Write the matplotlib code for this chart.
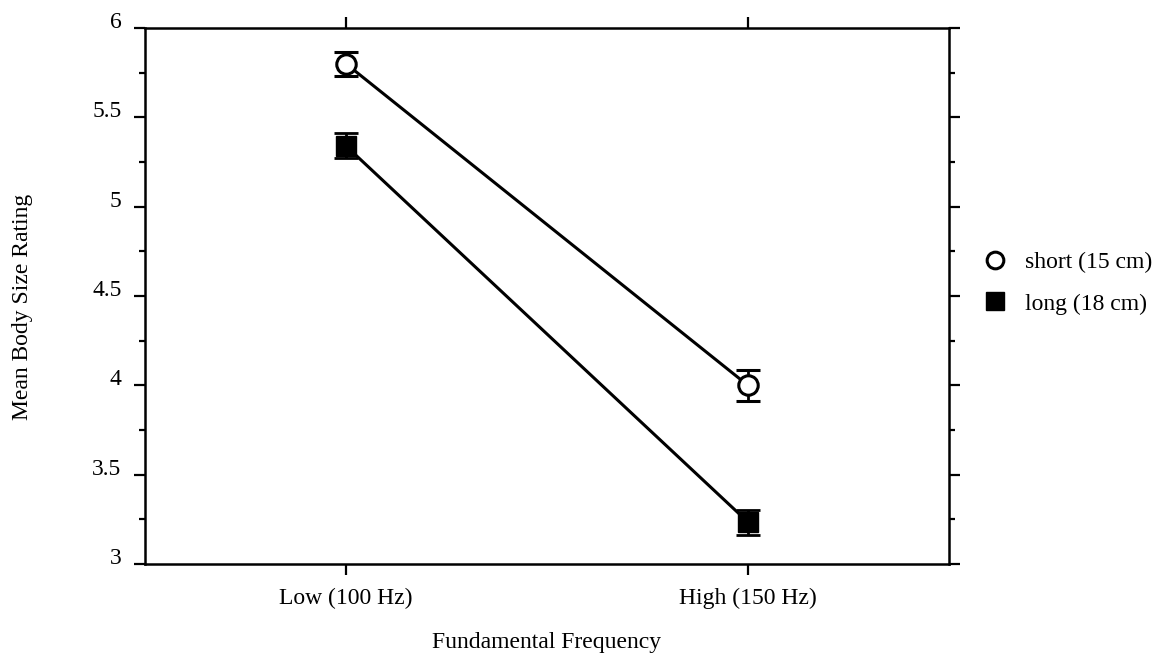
import matplotlib
matplotlib.use("Agg")
import matplotlib.pyplot as plt
from matplotlib.lines import Line2D
from matplotlib.ticker import MultipleLocator, FormatStrFormatter

categories = ["Low (100 Hz)", "High (150 Hz)"]
short_vals = [5.80, 4.00]
short_err = [0.068, 0.085]
long_vals = [5.34, 3.235]
long_err = [0.07, 0.07]
series_labels = ["short (15 cm)", "long (18 cm)"]

plt.rcParams['font.family'] = ['Liberation Serif', 'DejaVu Serif']
FS = 17

fig = plt.figure(figsize=(11.6, 6.54), dpi=100)
ax = fig.add_axes([0.125, 0.1376, 0.693, 0.8196])

x = [1, 2]
ax.errorbar(x, short_vals, yerr=short_err, color='black', lw=2.2, marker='o',
            ms=14, mfc='white', mec='black', mew=2.2, capsize=8.5, capthick=2, elinewidth=2, zorder=3)
ax.errorbar(x, long_vals, yerr=long_err, color='black', lw=2.2, marker='s',
            ms=14, mfc='black', mec='black', capsize=8.5, capthick=2, elinewidth=2, zorder=3)

ax.set_xlim(0.5, 2.5)
ax.set_ylim(3, 6)
ax.set_xticks(x)
ax.set_xticklabels(categories, fontsize=FS)
ax.yaxis.set_major_locator(MultipleLocator(0.5))
ax.yaxis.set_minor_locator(MultipleLocator(0.25))
ax.yaxis.set_major_formatter(FormatStrFormatter('%g'))
ax.tick_params(axis='both', which='major', direction='out', length=8, width=1.6, labelsize=FS)
ax.tick_params(axis='y', which='minor', direction='out', length=4.5, width=1.6)
ax.tick_params(axis='y', which='both', left=True, right=True, pad=9)
ax.tick_params(axis='x', which='both', top=True, bottom=True, pad=9)
for lab in ax.get_yticklabels():
    lab.set_verticalalignment('baseline')
for s in ax.spines.values():
    s.set_linewidth(1.8)

ax.set_xlabel("Fundamental Frequency", fontsize=FS)
ax.set_ylabel("Mean Body Size Rating", fontsize=FS)
ax.xaxis.set_label_coords(0.5, -0.127)
ax.yaxis.set_label_coords(-0.139, 0.48)

handles = [Line2D([], [], ls='none', marker='o', ms=12, mfc='white', mec='black', mew=2.2),
           Line2D([], [], ls='none', marker='s', ms=13, mfc='black', mec='black')]
fig.legend(handles, series_labels, loc='center left', bbox_to_anchor=(0.829, 0.567),
           frameon=False, fontsize=FS, handlelength=1.0, handletextpad=0.8, labelspacing=0.85)

fig.savefig("out.png", dpi=100)
